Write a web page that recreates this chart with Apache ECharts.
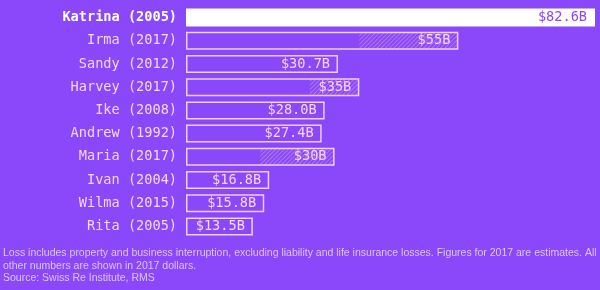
<!DOCTYPE html>
<html>
<head>
<meta charset="utf-8">
<script src="https://cdn.jsdelivr.net/npm/echarts@6/dist/echarts.min.js"></script>
<style>
html,body{margin:0;padding:0;background:#8b47fa;}
#chart{width:600px;height:290px;}
</style>
</head>
<body>
<div id="chart"></div>
<script>
var categories = ['Katrina (2005)', 'Irma (2017)', 'Sandy (2012)', 'Harvey (2017)', 'Ike (2008)', 'Andrew (1992)', 'Maria (2017)', 'Ivan (2004)', 'Wilma (2015)', 'Rita (2005)'];
var losses = [82.6, 55, 30.7, 35, 28.0, 27.4, 30, 16.8, 15.8, 13.5];
var valueLabels = ['$82.6B', '$55B', '$30.7B', '$35B', '$28.0B', '$27.4B', '$30B', '$16.8B', '$15.8B', '$13.5B'];
var estimateLow = [null, 35, null, 25, null, null, 15, null, null, null];
var noteLines = [
  'Loss includes property and business interruption, excluding liability and life insurance losses. Figures for 2017 are estimates. All',
  'other numbers are shown in 2017 dollars.',
  'Source: Swiss Re Institute, RMS'
];

var BG = '#8b47fa';
var LINE = '#f2cdf2';
var TEXT = '#f4d6f4';
var MONO = '"DejaVu Sans Mono", monospace';

var hatchBase = estimateLow.map(function (v) { return v == null ? null : v; });
var hatchPart = estimateLow.map(function (v, i) { return v == null ? null : +(losses[i] - v).toFixed(2); });

var chart = echarts.init(document.getElementById('chart'));
chart.setOption({
  backgroundColor: BG,
  animation: false,
  grid: { left: 186, right: 5, top: 6, height: 232 },
  xAxis: { type: 'value', min: 0, max: 82.6, show: false },
  yAxis: {
    type: 'category', data: categories, inverse: true,
    axisLine: { show: false }, axisTick: { show: false },
    axisLabel: {
      margin: 9, fontFamily: MONO, fontSize: 13.6, color: TEXT,
      formatter: function (v, i) { return i === 0 ? '{k|' + v + '}' : v; },
      rich: { k: { fontFamily: MONO, fontSize: 13.6, color: '#ffffff', fontWeight: 'bold' } }
    }
  },
  series: [
    {
      type: 'bar', stack: 'h', data: hatchBase, barWidth: 18, silent: true,
      itemStyle: { color: 'transparent' }
    },
    {
      type: 'bar', stack: 'h', data: hatchPart, barWidth: 18, silent: true,
      itemStyle: {
        color: 'transparent',
        decal: {
          symbol: 'rect', color: 'rgba(242,205,242,0.35)',
          dashArrayX: [1, 0], dashArrayY: [1, 2], rotation: -Math.PI / 4
        }
      }
    },
    {
      type: 'bar', data: losses.map(function (v, i) {
        return i === 0 ? { value: v, itemStyle: { color: '#ffffff', borderColor: '#ffffff' }, label: { color: BG } } : v;
      }),
      barWidth: 18, barGap: '-100%', silent: true,
      itemStyle: { color: 'transparent', borderColor: LINE, borderWidth: 1.5 },
      label: {
        show: true, position: 'insideRight', distance: 8,
        fontFamily: MONO, fontSize: 13.6, color: TEXT,
        formatter: function (p) { return valueLabels[p.dataIndex]; }
      }
    }
  ],
  graphic: noteLines.map(function (t, i) {
    return {
      type: 'text', left: 3, top: 247.5 + i * 12.8,
      style: { text: t, fill: '#dcc6fa', font: '10.5px "Liberation Sans", Arial, sans-serif' }
    };
  })
});
</script>
</body>
</html>
